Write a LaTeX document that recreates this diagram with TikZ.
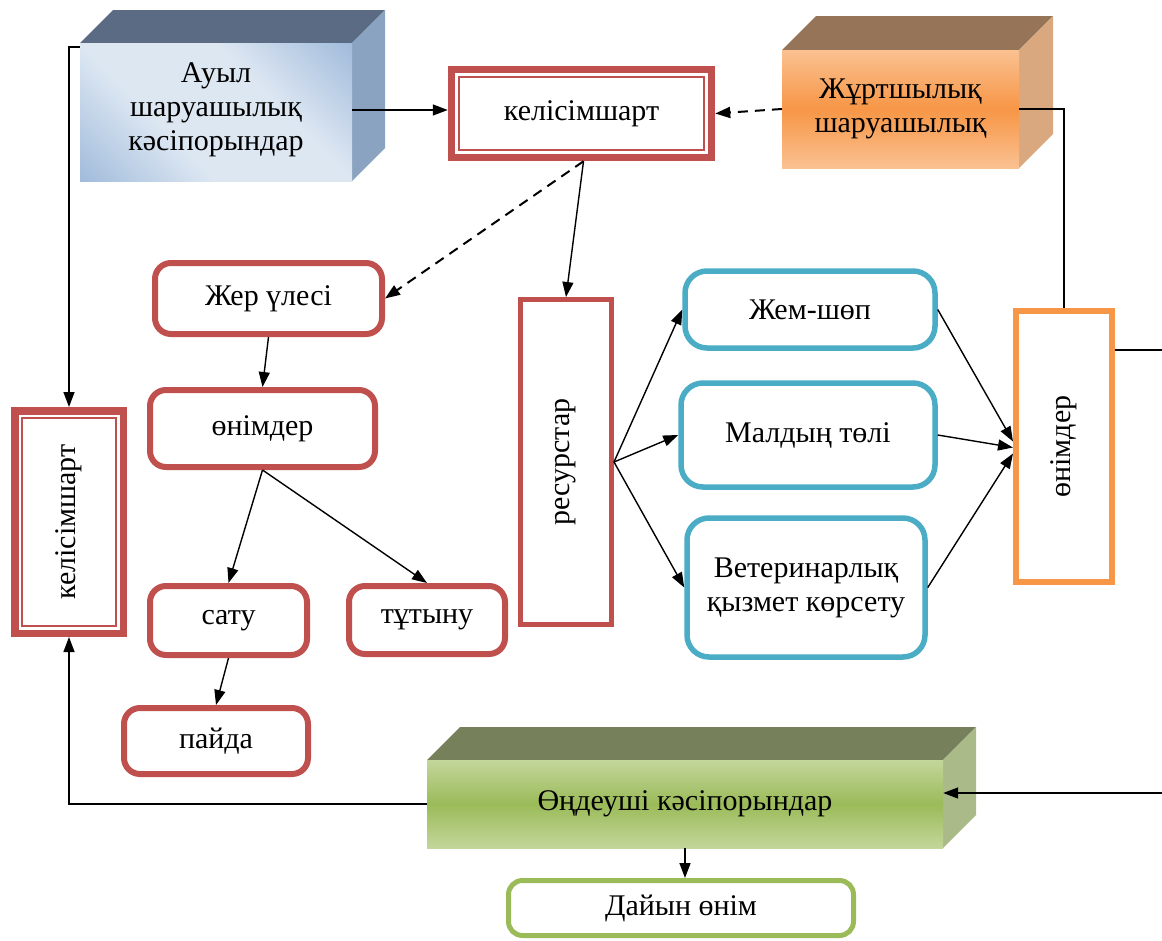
\documentclass[tikz,border=0pt]{standalone}
\usepackage{fontspec}
\setmainfont{Liberation Serif}
\usetikzlibrary{arrows.meta,calc}
\definecolor{redc}{HTML}{C0504D}
\definecolor{bluec}{HTML}{4BACC6}
\definecolor{orc}{HTML}{F79646}
\definecolor{grc}{HTML}{9BBB59}
\definecolor{aulight}{HTML}{DDE7F2}
\definecolor{audark}{HTML}{95B3D7}
\definecolor{autop}{HTML}{5B6B83}
\definecolor{auside}{HTML}{8AA3C1}
\definecolor{julight}{HTML}{FAC191}
\definecolor{jutop}{HTML}{957458}
\definecolor{juside}{HTML}{DAA87F}
\definecolor{odlight}{HTML}{C3D69B}
\definecolor{odtop}{HTML}{76805B}
\definecolor{odside}{HTML}{AABB89}
\pgfdeclarehorizontalshading{aushade}{100bp}{color(0bp)=(audark); color(10bp)=(audark); color(38bp)=(aulight); color(62bp)=(aulight); color(90bp)=(audark); color(100bp)=(audark)}
\begin{document}
\begin{tikzpicture}[x=1pt,y=-1pt,
  every node/.style={font=\fontsize{30}{34}\selectfont, inner sep=0pt, align=center},
  rbox/.style={draw=redc, line width=6pt, rounded corners=16pt, fill=white},
  bbox/.style={draw=bluec, line width=5.5pt, rounded corners=22pt, fill=white},
  dbox/.style={draw=redc, line width=7.5pt, fill=white},
  conn/.style={line width=1.4pt, -{Triangle[length=15pt,width=11pt]}},
  plain/.style={line width=1.4pt},
  dconn/.style={conn, line width=2pt, dash pattern=on 10pt off 7pt}
]
\useasboundingbox (0,0) rectangle (1162,940);

% 3D box: Ауыл шаруашылық кәсіпорындар
\fill[autop] (80,43) -- (113,10) -- (385,10) -- (352,43) -- cycle;
\fill[auside] (352,43) -- (385,10) -- (385,148) -- (352,181) -- cycle;
\shade[shading=aushade, shading angle=45] (80,43) rectangle (352,181);
\node[minimum width=272pt, minimum height=138pt] (au) at (216,110) {Ауыл\\шаруашылық\\кәсіпорындар};

% 3D box: Жұртшылық шаруашылық
\fill[jutop] (782,50) -- (816,16) -- (1053,16) -- (1019,50) -- cycle;
\fill[juside] (1019,50) -- (1053,16) -- (1053,134) -- (1019,168) -- cycle;
\shade[top color=julight, bottom color=julight, middle color=orc] (782,50) rectangle (1019,168);
\node[minimum width=237pt, minimum height=118pt] (ju) at (900.5,109) {Жұртшылық\\шаруашылық};

% 3D box: Өңдеуші кәсіпорындар
\fill[odtop] (427,760) -- (460,727) -- (976,727) -- (943,760) -- cycle;
\fill[odside] (943,760) -- (976,727) -- (976,815) -- (943,848) -- cycle;
\shade[top color=odlight, bottom color=odlight, middle color=grc] (427,760) rectangle (943,848);
\node[minimum width=516pt, minimum height=88pt] (od) at (685,804) {Өңдеуші кәсіпорындар};

% double-bordered boxes
\node[dbox, minimum width=260pt, minimum height=88pt] (kt) at (581.5,113.5) {келісімшарт};
\draw[redc, line width=2pt] ($(kt.north west)+(11,11)$) rectangle ($(kt.south east)+(-11,-11)$);
\node[dbox, minimum width=108.5pt, minimum height=222.5pt] (lk) at (69,522) {\rotatebox{90}{келісімшарт}};
\draw[redc, line width=2pt] ($(lk.north west)+(11,11)$) rectangle ($(lk.south east)+(-11,-11)$);

% red rounded boxes
\node[rbox, minimum width=227pt, minimum height=71pt] (jer) at (268.5,298.5) {Жер үлесі};
\node[rbox, minimum width=225pt, minimum height=77pt] (on1) at (262.5,428.5) {өнімдер};
\node[rbox, minimum width=157pt, minimum height=69pt] (satu) at (228.5,620.5) {сату};
\node[rbox, minimum width=156pt, minimum height=68pt] (tut) at (427,620) {тұтыну};
\node[rbox, minimum width=184pt, minimum height=66pt] (pay) at (216,741) {пайда};

% ресурстар
\node[draw=redc, line width=5pt, fill=white, minimum width=91pt, minimum height=325pt] (res) at (566,462) {\rotatebox{90}{ресурстар}};

% blue boxes
\node[bbox, minimum width=250pt, minimum height=77pt] (jem) at (810,309.5) {Жем-шөп};
\node[bbox, minimum width=254pt, minimum height=104pt] (mal) at (808,435) {Малдың төлі};
\node[bbox, minimum width=238pt, minimum height=139pt] (vet) at (806,587.5) {Ветеринарлық\\қызмет көрсету};

% right өнімдер
\node[draw=orc, line width=6pt, fill=white, minimum width=96pt, minimum height=271pt] (on2) at (1064,446.5) {\rotatebox{90}{өнімдер}};

% Дайын өнім
\node[draw=grc, line width=5pt, rounded corners=14pt, fill=white, minimum width=345pt, minimum height=55pt] (day) at (681,908) {Дайын өнім};

% connectors
\draw[conn] (au.east) -- (au.east -| kt.west);
\draw[dconn] (ju.west) -- (kt.east);
\draw[plain] (ju.east) -| (on2.north);
\draw[conn] ($(au.north west)+(0,6)$) -| (lk.north);
\draw[conn] (od.west) -| (lk.south);
\coordinate (ktb) at ($(kt.south)+(2,0)$);
\draw[dconn] (ktb) -- (jer.east);
\draw[conn] (ktb) -- (res.north);
\draw[conn] (jer.south) -- (on1.north);
\draw[conn] (on1.south) -- (satu.north);
\draw[conn] (on1.south) -- (tut.north);
\draw[conn] (satu.south) -- (pay.north);
\coordinate (rs) at (res.east);
\draw[conn] (rs) -- (jem.west);
\draw[conn] (rs) -- (mal.west);
\draw[conn] (rs) -- (vet.west);
\coordinate (t1) at ($(on2.west)+(0,-5)$);
\coordinate (t2) at ($(on2.west)+(0,1)$);
\coordinate (t3) at ($(on2.west)+(0,7)$);
\draw[conn] (jem.east) -- (t1);
\draw[conn] (mal.east) -- (t2);
\draw[conn] (vet.east) -- (t3);
\coordinate (edgeA) at (1162,350);
\draw[plain] (on2.east |- edgeA) -- (edgeA);
\coordinate (edgeB) at (1162,793);
\draw[conn] (edgeB) -- (edgeB -| od.east);
\draw[conn] (od.south) -- (od.south |- day.north);
\end{tikzpicture}
\end{document}
